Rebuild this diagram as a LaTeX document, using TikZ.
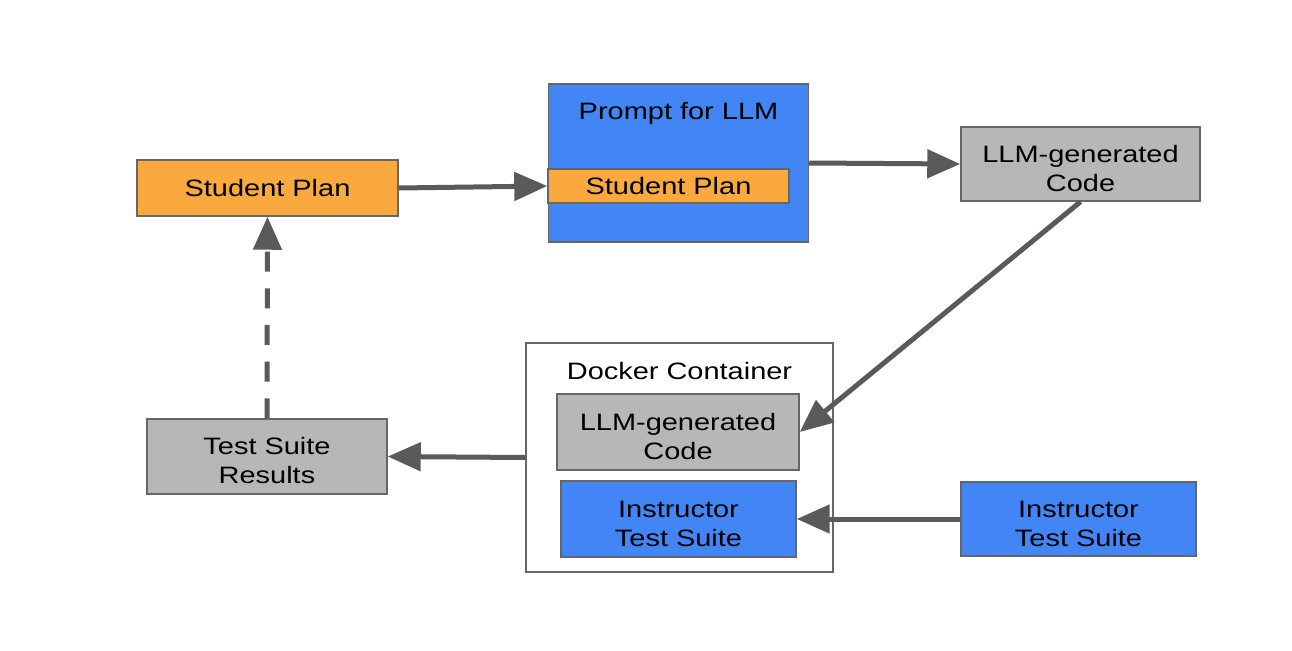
\documentclass[tikz,border=0pt]{standalone}
\usepackage{fontspec}
\setmainfont{Liberation Sans}[FakeStretch=1.22]
\usetikzlibrary{arrows.meta}
\definecolor{orangeF}{HTML}{F9A93D}
\definecolor{blueF}{HTML}{4285F4}
\definecolor{grayF}{HTML}{B7B7B7}
\definecolor{edgeC}{HTML}{666666}
\definecolor{arrC}{HTML}{5A5A5A}
\newcommand\toprule{\rule{0pt}{19.5pt}}
\begin{document}
\begin{tikzpicture}[x=0.75pt,y=-0.75pt,
  every node/.style={font=\fontsize{17.8}{21.75}\selectfont, text=black, align=center, inner sep=0pt},
  box/.style={draw=edgeC, line width=1.1pt, minimum width=#1*0.75pt},
  obox/.style={box=#1, fill=orangeF},
  bbox/.style={box=#1, fill=blueF},
  gbox/.style={box=#1, fill=grayF},
  arr/.style={draw=arrC, line width=3.75pt, -{Triangle[length=24.75pt, width=21pt]}},
  dasharr/.style={arr, dash pattern=on 15pt off 12.5pt}
]
\useasboundingbox (0,0) rectangle (1292,650);

\node[obox=261, minimum height=56*0.75pt] (sp) at (267.5,188) {Student Plan};
\node[bbox=260, minimum height=158*0.75pt] (prompt) at (678.5,163) {};
\node (ptitle) at (678.5,113) {Prompt for LLM};
\node[obox=241, minimum height=34*0.75pt] (isp) at (668.5,186) {Student Plan};
\node[gbox=239, minimum height=74*0.75pt] (code) at (1080.5,164) {\toprule LLM-generated\\Code};

\node[box=307, fill=white, minimum height=229*0.75pt] (docker) at (679.5,457.5) {};
\node (dtitle) at (679.5,371) {Docker Container};
\node[gbox=242, minimum height=76*0.75pt] (icode) at (678,432) {\toprule LLM-generated\\Code};
\node[bbox=235, minimum height=76*0.75pt] (iins) at (678.5,519) {\toprule Instructor\\Test Suite};
\node[bbox=235, minimum height=74*0.75pt] (ins) at (1078.5,519) {\toprule Instructor\\Test Suite};
\node[gbox=240, minimum height=75*0.75pt] (tsr) at (267,456.5) {\toprule Test Suite\\Results};

\draw[arr] (sp.east) -- (isp.west);
\draw[arr] (prompt.east) -- (code.west);
\draw[arr] (code.south) -- (icode.east);
\draw[arr] (docker.west) -- (tsr.east);
\draw[arr] (ins.west) -- (iins.east);
\draw[dasharr] (tsr.north) -- (sp.south);
\end{tikzpicture}
\end{document}
